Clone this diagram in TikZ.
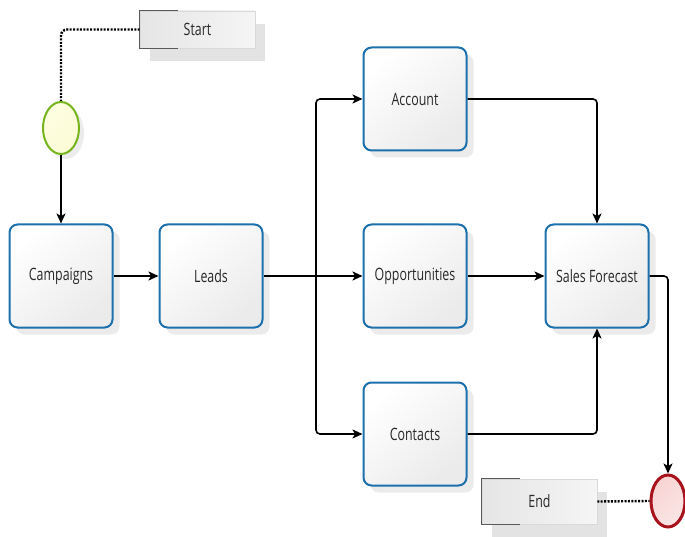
\documentclass[tikz,border=0pt]{standalone}
\usepackage{fontspec}
\setmainfont[FakeStretch=0.73]{Open Sans}
\usetikzlibrary{shapes.geometric,shadows,arrows.meta}
\definecolor{taskblue}{RGB}{28,112,172}
\definecolor{startgreen}{RGB}{118,180,30}
\definecolor{startfill}{RGB}{252,252,214}
\definecolor{endred}{RGB}{168,18,28}
\definecolor{endfill}{RGB}{248,212,212}
\definecolor{textgray}{RGB}{40,40,40}
\begin{document}
\begin{tikzpicture}[x=1pt, y=-1pt,
    every node/.style={font=\fontsize{17}{20}\selectfont, text=textgray},
    task/.style={rectangle, rounded corners=8pt, draw=taskblue, line width=2pt,
        minimum width=103pt, minimum height=103pt,
        top color=white, bottom color=black!8, shading angle=40,
        drop shadow={shadow xshift=7pt, shadow yshift=-7pt, opacity=.16}},
    note/.style={rectangle, draw=black!15, line width=0.6pt,
        left color=black!10, right color=black!4,
        drop shadow={shadow xshift=10pt, shadow yshift=-13pt, opacity=.22}},
    startev/.style={ellipse, draw=startgreen, line width=2pt, minimum width=36pt, minimum height=52pt,
        left color=startfill!70!white, right color=startfill, shading angle=45,
        drop shadow={shadow xshift=5pt, shadow yshift=-5pt, opacity=.15}},
    endev/.style={ellipse, draw=endred, line width=3pt, minimum width=34pt, minimum height=52pt,
        left color=endfill, right color=endfill!60!white, shading angle=45},
    flow/.style={->, line width=1.6pt, rounded corners=4pt},
    assoc/.style={line width=2.4pt, dash pattern=on 2pt off 1.4pt, rounded corners=6pt},
    >={Stealth[length=10pt, width=9pt, inset=2.5pt]}]
  \useasboundingbox (0,0) rectangle (685,537);

  \node[startev] (start) at (61,128) {};
  \node[note, minimum width=115pt, minimum height=37pt] (startnote) at (197.5,29.5) {Start};
  \draw[black!65, line width=1.2pt] ([xshift=38pt]startnote.north west) -- (startnote.north west)
      -- (startnote.south west) -- ([xshift=38pt]startnote.south west);

  \node[task] (campaigns) at (61,276) {Campaigns};
  \node[task] (leads) at (211,276) {Leads};
  \node[task] (account) at (415,99) {Account};
  \node[task] (opportunities) at (415,276) {Opportunities};
  \node[task] (contacts) at (415,434) {Contacts};
  \node[task] (forecast) at (597,276) {Sales Forecast};

  \node[endev] (end) at (668,501) {};
  \node[note, minimum width=115pt, minimum height=45pt] (endnote) at (539.5,501.5) {End};
  \draw[black!65, line width=1.2pt] ([xshift=38pt]endnote.north west) -- (endnote.north west)
      -- (endnote.south west) -- ([xshift=38pt]endnote.south west);

  \coordinate (fork) at (316,276);

  \draw[assoc] (startnote.west) -| (start.north);
  \draw[flow] (start) -- (campaigns);
  \draw[flow] (campaigns) -- (leads);
  \draw[flow] (leads) -- (opportunities);
  \draw[flow] (fork) |- (account);
  \draw[flow] (fork) |- (contacts);
  \draw[flow] (account) -| (forecast);
  \draw[flow] (opportunities) -- (forecast);
  \draw[flow] (contacts) -| (forecast);
  \draw[flow] (forecast.east) -| (end.north);
  \draw[assoc] (endnote.east) -- (end.west);
\end{tikzpicture}
\end{document}
